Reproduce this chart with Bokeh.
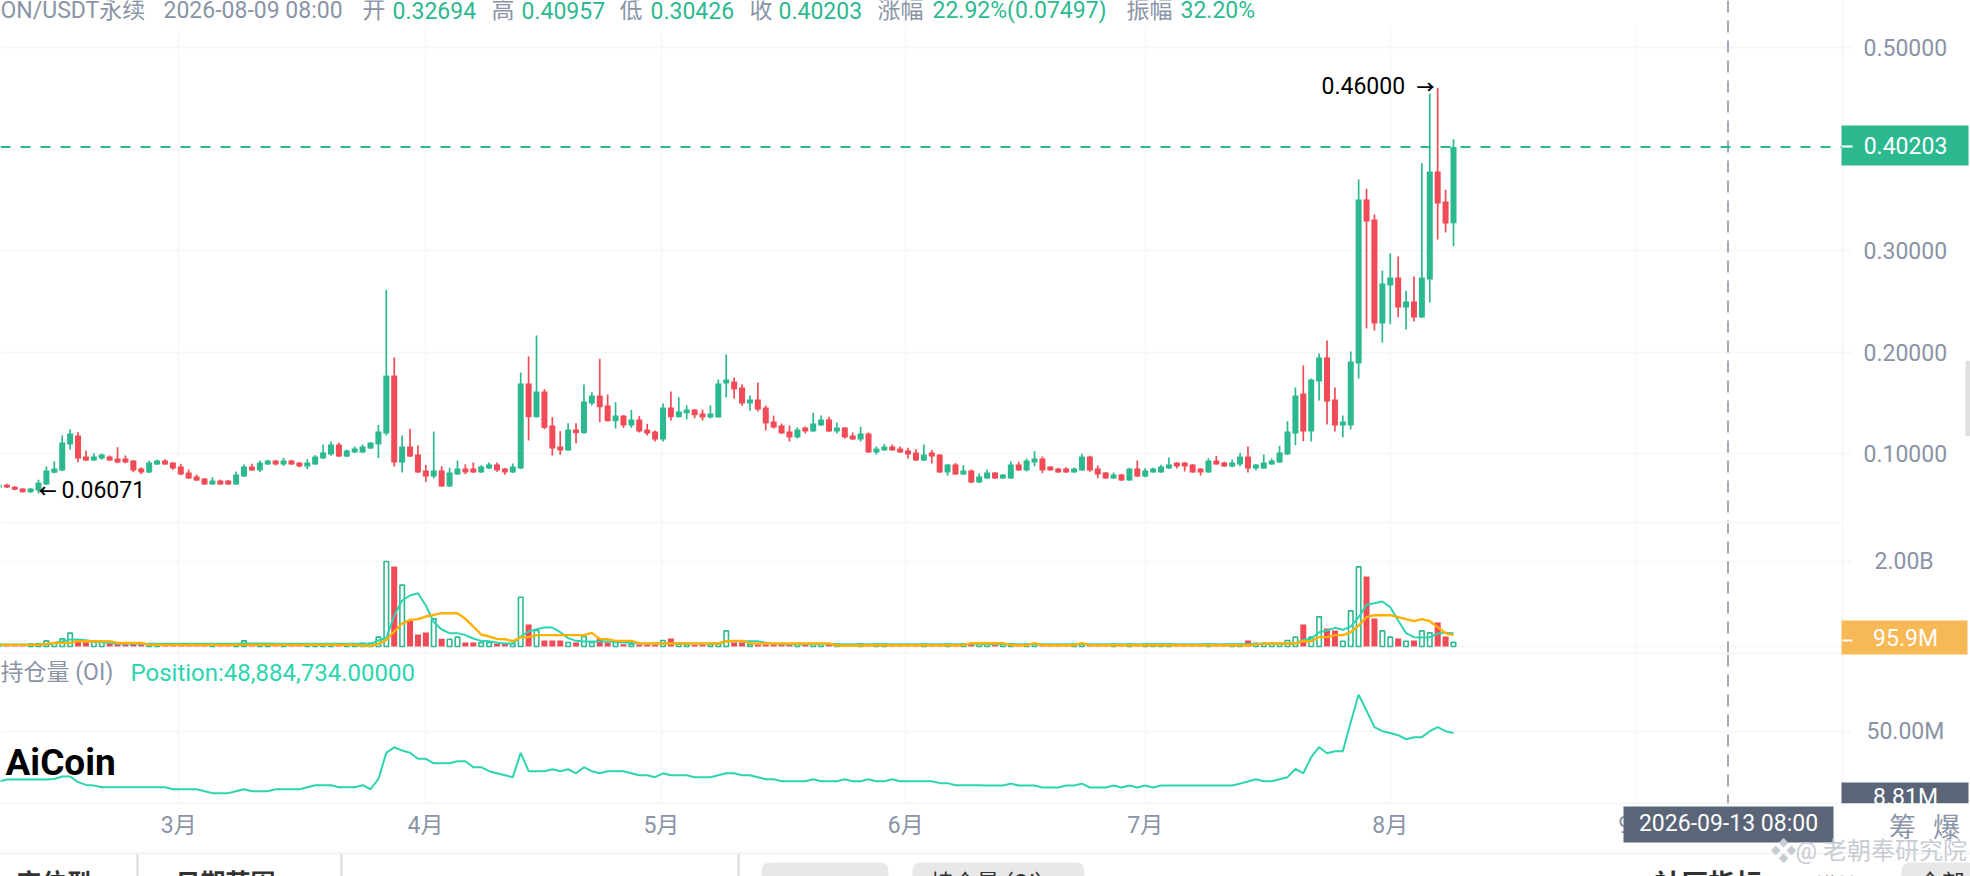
from bokeh.plotting import figure
from bokeh.layouts import column
from bokeh.models import Range1d, FixedTicker, Span, BoxAnnotation, Label, ColumnDataSource
from bokeh.embed import file_html
from bokeh.resources import INLINE

days = list(range(-23, 162))
month_ticks = [-0.25, 30.95, 60.8, 91.7, 122.0, 153.0, 184.1]
month_labels = ["3月", "4月", "5月", "6月", "7月", "8月", "9月"]
price_ticks = [0.1, 0.2, 0.3, 0.5]
price_grid = [0.1, 0.2, 0.3, 0.4, 0.5]
volume_ticks = [0, 2000]
oi_ticks = [50]

opens = [.0662,.0691,.0672,.0655,.0619,.0635,.0695,.0810,.0833,.1089,
.1177,.0970,.0931,.0951,.0970,.0951,.0951,.0931,.0852,.0813,
.0892,.0931,.0911,.0872,.0813,.0773,.0754,.0695,.0734,.0734,
.0695,.0773,.0872,.0833,.0892,.0931,.0892,.0931,.0911,.0872,
.0892,.0951,.0990,.1089,.0970,.1010,.1010,.1049,.1089,.1197,
.1768,.0911,.1069,.0990,.0833,.0773,.0833,.0675,.0793,.0852,
.0852,.0813,.0852,.0892,.0852,.0813,.0852,.1690,.1358,.1611,
.1276,.1069,.1030,.1236,.1200,.1493,.1571,.1473,.1319,.1374,
.1276,.1335,.1236,.1217,.1138,.1453,.1358,.1397,.1433,.1394,
.1355,.1355,.1690,.1709,.1650,.1493,.1532,.1453,.1315,.1276,
.1217,.1158,.1256,.1217,.1276,.1335,.1217,.1256,.1177,.1138,
.1197,.1010,.1030,.1069,.1049,.1030,.1010,.0931,.1010,.0990,
.0813,.0892,.0793,.0833,.0714,.0754,.0813,.0754,.0754,.0892,
.0833,.0911,.0951,.0872,.0852,.0852,.0813,.0833,.0970,.0852,
.0813,.0754,.0793,.0734,.0852,.0773,.0813,.0813,.0852,.0911,
.0911,.0892,.0852,.0813,.0931,.0911,.0872,.0892,.0970,.0852,
.0852,.0892,.0911,.0990,.1197,.1591,.1217,.1709,.1946,.1532,
.1276,.1276,.1887,.3502,.3305,.2281,.2655,.2734,.2438,.2498,
.2340,.2714,.3778,.3483,.32694]

highs = [.0695,.0701,.0678,.0658,.0660,.0741,.0872,.0921,.1177,.1236,
.1210,.1030,.1003,.1000,.0980,.1062,.0980,.0935,.0865,.0931,
.0941,.0944,.0915,.0898,.0842,.0793,.0758,.0767,.0744,.0738,
.0823,.0892,.0898,.0931,.0938,.0935,.0957,.0938,.0915,.0944,
.0984,.1089,.1118,.1105,.1039,.1069,.1089,.1112,.1282,.2612,
.1946,.1177,.1243,.1079,.0888,.1217,.0875,.0859,.0931,.0892,
.0911,.0885,.0911,.0911,.0856,.0901,.1798,.1956,.2163,.1634,
.1358,.1220,.1299,.1299,.1680,.1604,.1933,.1581,.1506,.1378,
.1430,.1368,.1292,.1227,.1493,.1611,.1555,.1476,.1437,.1433,
.1473,.1729,.1975,.1749,.1680,.1571,.1700,.1473,.1374,.1296,
.1276,.1256,.1266,.1401,.1374,.1361,.1305,.1260,.1207,.1263,
.1207,.1069,.1095,.1089,.1069,.1056,.1043,.1089,.1036,.0993,
.0895,.0908,.0885,.0842,.0803,.0842,.0816,.0796,.0921,.0918,
.0951,.1023,.0970,.0875,.0859,.0865,.0862,.0997,.0977,.0882,
.0816,.0813,.0800,.0859,.0931,.0855,.0862,.0888,.0961,.0914,
.0914,.0895,.0855,.0954,.0977,.0921,.0941,.1007,.1069,.0895,
.0990,.0951,.1076,.1319,.1650,.1867,.1739,.1985,.2113,.1650,
.1374,.2005,.3700,.3608,.3355,.2803,.2974,.2941,.2606,.2744,
.3860,.4544,.4600,.3598,.40957]

lows = [.0655,.0660,.0638,.0615,.0612,.06071,.0690,.0805,.0825,.1039,
.0915,.0925,.0925,.0938,.0925,.0905,.0905,.0816,.0796,.0808,
.0888,.0888,.0839,.0788,.0750,.0730,.0692,.0692,.0692,.0692,
.0692,.0770,.0830,.0816,.0888,.0882,.0878,.0888,.0865,.0846,
.0888,.0948,.0977,.0965,.0965,.1005,.1005,.1045,.0954,.1177,
.0872,.0813,.0965,.0808,.0721,.0754,.0672,.0672,.0790,.0796,
.0808,.0808,.0848,.0819,.0790,.0808,.0848,.1128,.1354,.1240,
.0980,.0987,.1026,.1102,.1197,.1473,.1309,.1315,.1246,.1253,
.1253,.1207,.1177,.1118,.1118,.1325,.1354,.1335,.1348,.1325,
.1345,.1352,.1552,.1542,.1470,.1420,.1414,.1227,.1246,.1193,
.1118,.1148,.1197,.1213,.1272,.1213,.1197,.1148,.1134,.1118,
.1007,.0990,.1027,.1027,.1007,.0951,.0927,.0927,.0901,.0810,
.0780,.0790,.0790,.0710,.0710,.0750,.0750,.0750,.0750,.0830,
.0823,.0872,.0806,.0830,.0810,.0810,.0810,.0830,.0819,.0757,
.0750,.0750,.0730,.0730,.0769,.0767,.0810,.0810,.0848,.0852,
.0823,.0810,.0783,.0810,.0888,.0868,.0865,.0875,.0813,.0833,
.0848,.0888,.0908,.0987,.1082,.1122,.1118,.1522,.1286,.1217,
.1158,.1236,.1739,.2232,.2212,.2094,.2274,.2343,.2222,.2300,
.2336,.2488,.3108,.3177,.30426]

closes = [.0691,.0665,.0642,.0619,.0655,.0711,.0833,.0852,.1108,.1197,
.0951,.0931,.0970,.0990,.0931,.0911,.0911,.0833,.0813,.0911,
.0931,.0892,.0852,.0793,.0754,.0734,.0695,.0734,.0695,.0695,
.0793,.0872,.0833,.0911,.0931,.0892,.0931,.0892,.0872,.0911,
.0970,.1010,.1089,.0970,.1030,.1049,.1069,.1108,.1217,.1768,
.0911,.1069,.0970,.0813,.0773,.0833,.0675,.0813,.0852,.0813,
.0813,.0872,.0892,.0833,.0813,.0872,.1690,.1358,.1611,.1253,
.1049,.1030,.1236,.1200,.1512,.1571,.1456,.1319,.1374,.1276,
.1335,.1217,.1197,.1138,.1453,.1358,.1414,.1433,.1378,.1355,
.1394,.1690,.1729,.1631,.1493,.1532,.1433,.1296,.1256,.1197,
.1158,.1236,.1217,.1296,.1335,.1217,.1256,.1158,.1138,.1197,
.1010,.1049,.1069,.1030,.1010,.0990,.0931,.0990,.0970,.0813,
.0892,.0793,.0833,.0714,.0773,.0813,.0754,.0793,.0892,.0833,
.0931,.0951,.0833,.0833,.0813,.0813,.0852,.0970,.0833,.0793,
.0754,.0793,.0734,.0852,.0773,.0833,.0852,.0872,.0892,.0872,
.0872,.0813,.0813,.0931,.0892,.0872,.0911,.0970,.0852,.0892,
.0911,.0931,.1010,.1217,.1571,.1217,.1729,.1946,.1512,.1276,
.1315,.1906,.3502,.3286,.2281,.2675,.2734,.2438,.2498,.2340,
.2734,.3778,.3463,.3266,.40203]

volumes_m = [60,55,55,55,55,63,133,70,180,314,
141,100,100,100,63,63,55,60,55,55,
55,55,55,55,60,60,60,55,55,60,
55,133,60,60,60,60,60,55,55,55,
55,55,60,55,55,63,78,78,220,2000,
1882,1443,612,282,329,651,180,172,220,94,
94,94,94,63,63,63,1160,517,376,141,
141,141,94,94,235,94,188,94,94,55,
55,47,47,39,141,188,55,47,47,47,
47,60,368,94,94,47,47,47,47,47,
55,55,60,55,55,60,55,55,60,55,
55,60,55,55,60,55,55,60,55,60,
60,55,55,60,55,60,55,55,60,55,
60,55,55,60,55,55,60,55,55,60,
55,60,55,55,60,55,60,55,55,60,
55,60,55,55,60,55,60,60,141,78,
78,63,63,141,220,517,220,698,423,376,
125,839,1874,1646,659,368,220,188,125,141,
368,321,564,235,95.9]

volume_ma5_m = [47,47,47,47,47,47,47,80,120,165,
165,150,120,100,80,63,63,63,63,63,
63,63,63,63,63,63,63,63,63,63,
63,70,70,70,70,63,63,63,63,63,
63,63,63,63,63,63,63,63,141,204,
729,1082,1200,1254,964,572,400,314,314,267,
188,133,125,86,71,71,235,353,408,447,
447,337,196,133,118,118,118,118,110,94,
86,71,71,71,71,71,71,71,71,71,
71,71,125,125,125,125,125,86,63,55,
55,55,55,55,55,55,55,55,55,55,
55,55,55,55,55,55,55,55,55,55,
55,55,55,55,55,55,55,55,55,55,
55,55,55,55,55,55,55,55,55,55,
55,55,55,55,55,55,55,55,55,55,
55,55,55,55,55,55,55,55,55,63,
63,71,71,71,78,157,180,337,376,439,
392,470,690,980,1019,1059,925,612,314,220,
212,220,306,321,314]

volume_ma10_m = [39,39,39,39,39,39,60,86,86,86,
125,125,125,125,125,86,86,86,86,39,
39,39,39,39,39,39,39,39,39,39,
39,39,39,39,39,39,39,39,39,39,
39,39,39,39,39,39,16,16,63,157,
353,541,627,643,705,745,784,784,784,651,
470,282,235,180,172,125,212,220,267,267,
267,267,267,267,267,321,180,172,133,133,
133,78,71,71,71,71,71,71,71,71,
71,71,125,133,133,78,71,71,71,71,
71,71,71,71,71,71,24,24,24,24,
31,31,31,31,31,31,31,31,31,31,
31,31,31,78,78,78,78,78,31,31,
31,78,31,31,31,31,31,78,31,31,
31,31,31,31,31,31,31,31,31,31,
31,31,31,31,31,31,31,31,24,50,
63,71,71,71,71,125,125,220,220,267,
267,337,494,690,737,737,737,690,643,596,
643,596,455,314,267]

open_interest_m = [18.8,20,20,20,20,20,20,20.4,21.9,21.9,
18.4,16.7,16.3,15.3,15.3,15.3,15.3,15.3,15.3,15.3,
15.3,15.3,14,14,14,14,12.8,11.6,11.6,11.6,
12.8,14,12.8,12.8,12.8,14,14,14,14,15.3,
16.5,16.5,16.5,15.3,15.3,15.3,16.5,14,20.4,36.6,
40.07,38,36.6,32.9,32.9,30.1,30.1,30.1,31.4,31.4,
27.7,27.7,25.2,23.9,22.7,21.5,36.6,25.2,25.2,25.2,
26.4,25.2,26.4,23.9,27.7,25.2,23.9,25.2,25.2,25.2,
23.9,22.7,22.7,21.5,23.9,22.7,22.7,22.7,21.5,21.5,
21.5,22.7,23.9,23.9,22.7,22.7,21.5,20.2,20.2,19,
19,19,19,20.2,19,19,19,20.2,19,19,
20.2,19,19,20.2,19,19,19,19,19,17.8,
17.8,16.5,16.5,16.5,16.5,16.3,16.3,16.3,17.5,16.3,
16.3,16.3,15.1,15.1,15.1,16.3,16.3,17.5,15.1,15.1,
15.1,16.3,15.1,16.3,15.1,16.3,15.1,16.3,16.3,16.3,
16.3,16.3,16.3,16.3,16.3,16.3,16.3,17.5,18.8,20.2,
19,19,20.2,21.5,26.6,23.9,33.9,40.07,36.3,37.6,
37.6,55.6,72.7,62.8,52.5,50,48.88,47.5,45,46.3,
46.3,50,52.5,50,48.88]

GREEN = "#2DB98F"
RED = "#F04B56"
TEAL = "#2DD4B0"
ORANGE = "#FFB000"
GREY = "#8A94A6"
SLATE = "#5A6578"
PALE = "#F6F7F9"
FONT = "Roboto, 'Noto Sans CJK SC', sans-serif"
FS = 23

PX_PER_DAY = 7.905
PX_DAY0 = 180.29
PLOT_W = 1842
TOTAL_W = 1970
TOTAL_H = 876


def xd(px):
    return (px - PX_DAY0) / PX_PER_DAY


x_range = Range1d(xd(0), xd(PLOT_W))


def price_y(py):
    return 0.1 + (453 - py) / 1015


def vol_y(py):
    return (646 - py) * 2000 / 85


def oi_y(py):
    return 50 - (py - 730.7) * 0.62


def make_pane(y_start, y_end, height, ticks, fmt_overrides, standoff, bottom=0, grid_ticks=None):
    f = figure(width=TOTAL_W, height=height, x_range=x_range, y_range=Range1d(y_start, y_end),
               toolbar_location=None, output_backend="svg", y_axis_location="right",
               x_axis_location="below" if bottom else None,
               min_border_left=0, min_border_right=TOTAL_W - PLOT_W, min_border_top=0,
               min_border_bottom=bottom, outline_line_color=None, background_fill_color="white",
               border_fill_color="white")
    ax = f.yaxis[0]
    ax.ticker = FixedTicker(ticks=ticks)
    ax.major_label_overrides = fmt_overrides
    ax.axis_line_color = PALE
    ax.axis_line_width = 2
    ax.major_tick_line_color = PALE
    ax.major_tick_line_width = 2
    ax.major_tick_in = 0
    ax.major_tick_out = 9
    ax.minor_tick_line_color = None
    ax.major_label_standoff = standoff
    ax.major_label_text_color = GREY
    ax.major_label_text_font = FONT
    ax.major_label_text_font_size = f"{FS}px"
    f.ygrid[0].grid_line_color = PALE
    f.ygrid[0].grid_line_width = 2
    f.ygrid[0].ticker = FixedTicker(ticks=grid_ticks or ticks)
    f.xgrid[0].grid_line_color = PALE
    f.xgrid[0].grid_line_width = 1.5
    f.xgrid[0].ticker = FixedTicker(ticks=month_ticks)
    f.add_layout(Span(location=xd(1727.5), dimension="height", line_color=GREY, line_width=1.6,
                      line_dash="12 8"))
    return f


# ---------------- price pane ----------------
tops = [max(o, c) for o, c in zip(opens, closes)]
bots = [min(o, c) for o, c in zip(opens, closes)]
colors = [GREEN if c >= o else RED for o, c in zip(opens, closes)]
candles = ColumnDataSource(dict(x=days, high=highs, low=lows, top=tops, bot=bots, color=colors))

p1 = make_pane(price_y(521), price_y(0), 521, price_ticks,
               {t: f"{t:.5f}" for t in price_ticks}, 12, grid_ticks=price_grid)
p1.segment("x", "low", "x", "high", source=candles, line_color="color", line_width=1.7)
p1.vbar("x", 0.76, "bot", "top", source=candles, fill_color="color", line_color=None)
p1.add_layout(Span(location=closes[-1], dimension="width", line_color=GREEN, line_width=2,
                   line_dash="10 10"))
p1.add_layout(BoxAnnotation(left=xd(0), right=xd(1700), top=price_y(0), bottom=price_y(28),
                            fill_color="white", fill_alpha=1, line_color=None))

# ---------------- volume pane ----------------
up = [i for i, (o, c) in enumerate(zip(opens, closes)) if c >= o]
dn = [i for i, (o, c) in enumerate(zip(opens, closes)) if c < o]

p2 = make_pane(vol_y(654), vol_y(521), 133, volume_ticks, {0: "", 2000: "2.00B"}, 23)
p2.vbar([days[i] for i in dn], 0.76, 0, [volumes_m[i] for i in dn], fill_color=RED, line_color=None)
p2.vbar([days[i] for i in up], 0.57, 0, [volumes_m[i] for i in up], fill_color="white",
        line_color=GREEN, line_width=1.6)
p2.line(days, volume_ma5_m, line_color=TEAL, line_width=2)
p2.line(days, volume_ma10_m, line_color=ORANGE, line_width=2.4)
p2.add_layout(Span(location=vol_y(522), dimension="width", line_color=PALE, line_width=2))
p2.add_layout(Span(location=vol_y(653), dimension="width", line_color=PALE, line_width=2))

# ---------------- open interest pane + time axis ----------------
p3 = make_pane(oi_y(803), oi_y(654), 222, oi_ticks, {50: "50.00M"}, 15, bottom=73)
p3.line(days, open_interest_m, line_color=TEAL, line_width=2)
xa = p3.xaxis[0]
xa.ticker = FixedTicker(ticks=month_ticks)
xa.major_label_overrides = dict(zip(month_ticks, month_labels))
xa.axis_line_color = PALE
xa.axis_line_width = 2
xa.major_tick_line_color = None
xa.minor_tick_line_color = None
xa.major_label_standoff = 2
xa.major_label_text_color = GREY
xa.major_label_text_font = FONT
xa.major_label_text_font_size = f"{FS}px"

# ---------------- transparent layer for tags, header and page furniture ----------------
top = figure(width=TOTAL_W, height=TOTAL_H, x_range=Range1d(0, TOTAL_W), y_range=Range1d(TOTAL_H, 0),
             toolbar_location=None, output_backend="svg", x_axis_location=None, y_axis_location=None,
             min_border=0, outline_line_color=None, background_fill_alpha=0, border_fill_alpha=0,
             margin=(-TOTAL_H, 0, 0, 0), frame_align=False)
top.grid.visible = False


def text(px, py, s, color=GREY, size=FS, align="left", style="normal"):
    top.add_layout(Label(x=px, y=py, text=s, text_color=color, text_font_size=f"{size}px",
                         text_align=align, text_baseline="middle", text_font_style=style,
                         text_font=FONT))


def rect(x0, x1, y0, y1, color, radius=0):
    top.add_layout(BoxAnnotation(left=x0, right=x1, top=y0, bottom=y1, fill_color=color, fill_alpha=1,
                                 line_color=None, border_radius=radius))


header = [
    (0, "ON/USDT永续", GREY), (163, "2026-08-09 08:00", GREY),
    (362, "开", GREY), (392, "0.32694", GREEN), (491, "高", GREY), (521, "0.40957", GREEN),
    (619, "低", GREY), (650, "0.30426", GREEN), (749, "收", GREY), (778, "0.40203", GREEN),
    (877, "涨幅", GREY), (932, "22.92%(0.07497)", GREEN), (1126, "振幅", GREY), (1180, "32.20%", GREEN),
]
for hx, hs, hc in header:
    text(hx, 10, hs, hc)

text(1321, 85, "0.46000", "#000000")
text(1416, 87, "→", "#000000", size=18, style="bold")
text(38, 491, "←", "#000000", size=18, style="bold")
text(61, 489, "0.06071", "#000000")
rect(1841, 1968, 125, 165, GREEN)
text(1905, 145, "0.40203", "#FFFFFF", align="center")
rect(1841, 1852, 145, 147, "#FFFFFF")
rect(1965, 1970, 360, 436, "#E0E0E0", 3)

rect(1841, 1967, 620, 654, "#F7B955")
text(1905, 638, "95.9M", "#FFFFFF", align="center")
rect(1842, 1852, 639, 641, "#FFFFFF")

text(0, 672, "持仓量 (OI)", GREY)
text(130, 672, "Position:48,884,734.00000", TEAL, size=24)
text(5, 762, "AiCoin", "#000000", size=37, style="bold")

rect(1841, 1968, 782, 803, SLATE)
text(1905, 797, "8.81M", "#FFFFFF", align="center")
rect(1841, 1970, 803, 821, "#FFFFFF")
rect(1623, 1833, 806, 842, SLATE)
text(1728, 823, "2026-09-13 08:00", "#FFFFFF", align="center")
text(1902, 827, "筹", GREY, size=27, align="center")
text(1946, 827, "爆", GREY, size=27, align="center")

rect(0, 1970, 852, 854, "#F2F3F5")
for sx in (137, 341, 738):
    rect(sx - 1, sx + 1, 854, 876, "#D8DADE")
rect(761, 888, 862, 890, "#E8E8E8", 8)
rect(912, 1084, 862, 890, "#E8E8E8", 8)
rect(1901, 1975, 862, 890, "#E8E8E8", 8)
toolbar = [(16, "定位型", 883, 25, "bold"), (175, "日期范围", 883, 25, "bold"),
           (383, "1 Hour", 887, 23, "normal"), (484, "5 Hour", 887, 23, "normal"),
           (597, "D1 bbbbb", 887, 23, "normal"), (775, "Volume", 887, 23, "normal"),
           (930, "持仓量 (OI)", 883, 23, "normal"), (1126, "MACD", 887, 23, "normal"),
           (1264, "RSI", 887, 23, "normal"), (1362, "KDJ bbb", 887, 23, "normal"),
           (1613, "50", 887, 23, "normal"), (1654, "社区指标", 884, 27, "bold"),
           (1814, "模块", 887, 23, "normal"), (1918, "全部", 883, 23, "normal")]
for tx, ts, ty, tsz, tb in toolbar:
    text(tx, ty, ts, "#333333", size=tsz, style=tb)

text(1770, 850, "❖", "#C8CCD2", size=26)
text(1795, 850, "@ 老朝奉研究院", "#C8CCD2", size=24)

root = column(p1, p2, p3, top, spacing=0)

assert len(days) == len(opens) == len(highs) == len(lows) == len(closes) == len(volumes_m) \
    == len(volume_ma5_m) == len(volume_ma10_m) == len(open_interest_m)

open("out.html", "w").write(file_html(root, INLINE))
